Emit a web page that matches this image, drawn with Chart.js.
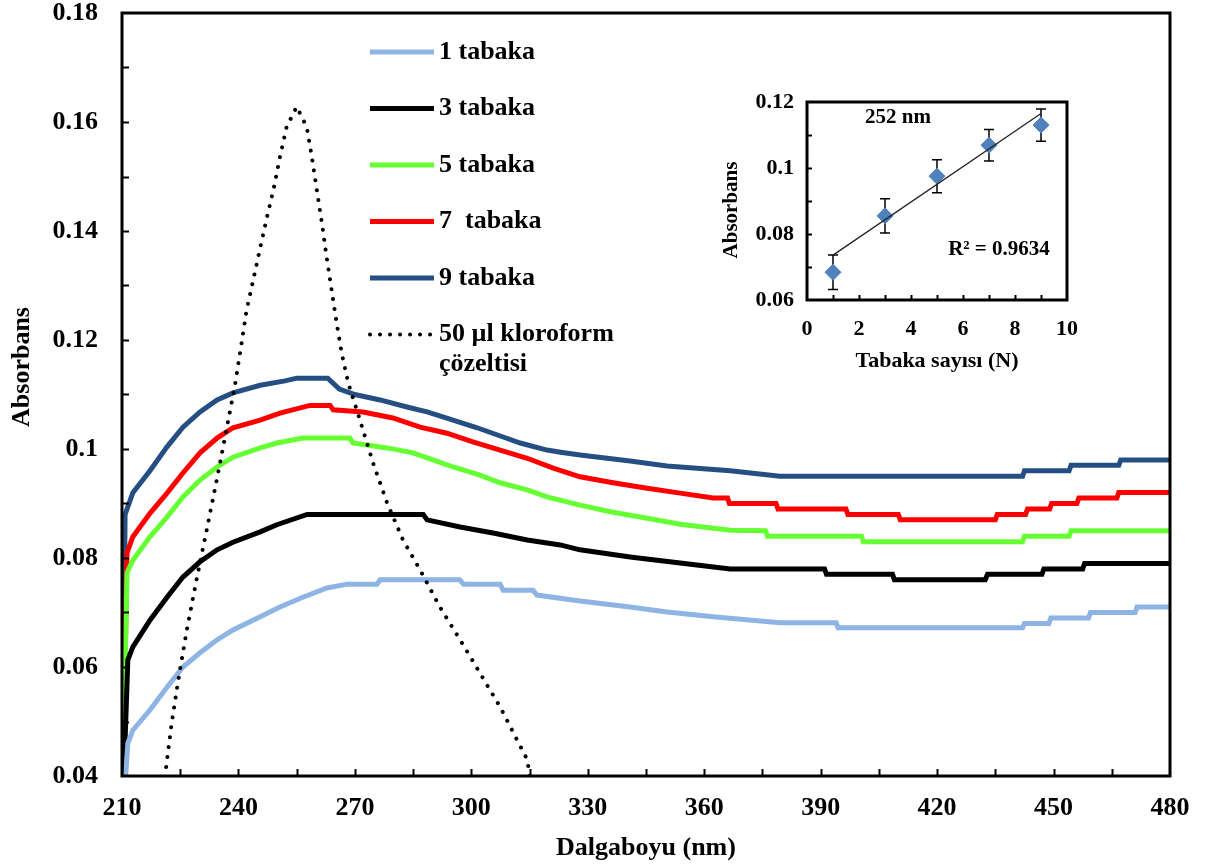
<!DOCTYPE html>
<html>
<head>
<meta charset="utf-8">
<title>Absorbans - Dalgaboyu</title>
<script src="https://cdn.jsdelivr.net/npm/chart.js@4.4.1/dist/chart.umd.min.js"></script>
<style>
  body { margin: 0; background: #fff; }
  #wrap { position: relative; width: 1210px; height: 867px; }
  #mainChart { position: absolute; left: 0; top: 0; }
  #insetChart { position: absolute; left: 700px; top: 80px; }
</style>
</head>
<body>
<div id="wrap">
  <canvas id="mainChart" width="1210" height="867"></canvas>
  <canvas id="insetChart" width="400" height="300"></canvas>
</div>
<script>
// ---- main spectra ----
const nm1 = [210, 211.5, 212.8, 217.2, 221.6, 225.7, 230.1, 234.5, 238.6, 245.6, 250.7, 256.6, 262.8, 268, 275.7, 276.5, 297, 298, 307.4, 308.2, 315.9, 316.9, 328, 340.9, 350.4, 362.3, 379.5, 394, 394.5, 442, 442.5, 448.8, 449.3, 459, 459.5, 471, 471.5, 480];
const abs1 = [0.03, 0.046, 0.0484, 0.0521, 0.0563, 0.06, 0.0626, 0.065, 0.0668, 0.0692, 0.071, 0.0728, 0.0745, 0.0752, 0.0752, 0.076, 0.076, 0.0752, 0.0752, 0.0741, 0.0741, 0.0732, 0.0721, 0.071, 0.0701, 0.0692, 0.0681, 0.0681, 0.0672, 0.0672, 0.068, 0.068, 0.069, 0.069, 0.07, 0.07, 0.071, 0.071];

const nm3 = [210, 211.5, 212.8, 217.2, 221.6, 225.7, 230.1, 234.5, 238.6, 245.6, 249.9, 257.7, 287.6, 288.6, 297.1, 305.6, 314.4, 322.9, 328, 340.9, 353.8, 366.7, 391, 391.5, 408.5, 409, 432.4, 433, 447, 447.5, 457.5, 458, 480];
const abs3 = [0.03, 0.0613, 0.0637, 0.0686, 0.0728, 0.0765, 0.0793, 0.0815, 0.0829, 0.0848, 0.0861, 0.088, 0.088, 0.087, 0.0857, 0.0846, 0.0833, 0.0824, 0.0815, 0.0802, 0.0791, 0.078, 0.078, 0.077, 0.077, 0.076, 0.076, 0.077, 0.077, 0.078, 0.078, 0.079, 0.079];

const nm5 = [210, 211.3, 212.8, 217.2, 221.6, 225.7, 230.1, 234.5, 238.6, 245.6, 249.9, 256.6, 268.7, 269.5, 278.3, 285, 290.1, 295.3, 302.2, 307.4, 314.4, 319.5, 328, 336.5, 345.3, 353.8, 366.7, 375.8, 376.3, 400.5, 401, 442, 442.5, 454, 454.5, 480];
const abs5 = [0.03, 0.0773, 0.0796, 0.0839, 0.0875, 0.0912, 0.0943, 0.0967, 0.0985, 0.1002, 0.1011, 0.102, 0.102, 0.1011, 0.1002, 0.0993, 0.098, 0.0967, 0.0952, 0.0938, 0.0925, 0.0912, 0.0897, 0.0884, 0.0873, 0.0862, 0.0851, 0.085, 0.084, 0.084, 0.083, 0.083, 0.084, 0.084, 0.085, 0.085];

const nm7 = [210, 211.3, 212.8, 217.2, 221.6, 225.7, 230.1, 234.5, 238.6, 245.6, 250.7, 258.4, 263.6, 264.4, 272.1, 279.8, 286.8, 293.7, 300.4, 307.4, 314.4, 321.1, 328, 336.5, 345.3, 353.8, 362.3, 366, 366.5, 378.5, 379, 396.5, 397, 410, 410.5, 435, 435.5, 442.8, 443.3, 449, 449.5, 456, 456.5, 466.3, 466.8, 480];
const abs7 = [0.03, 0.081, 0.0839, 0.0882, 0.0919, 0.0956, 0.0993, 0.102, 0.1039, 0.1053, 0.1066, 0.108, 0.108, 0.1072, 0.1068, 0.1057, 0.104, 0.1029, 0.1013, 0.0998, 0.0983, 0.0965, 0.0949, 0.0938, 0.0928, 0.0919, 0.091, 0.091, 0.09, 0.09, 0.089, 0.089, 0.088, 0.088, 0.087, 0.087, 0.088, 0.088, 0.089, 0.089, 0.09, 0.09, 0.091, 0.091, 0.092, 0.092];

const nm9 = [210, 210.8, 212.8, 217.2, 221.6, 225.7, 230.1, 234.5, 238.6, 245.6, 252, 255, 263, 266, 270, 276.5, 283.4, 288.6, 295.3, 301.5, 308.2, 312.6, 319.5, 323, 328, 340.9, 350.4, 366.7, 379.5, 442, 442.5, 454, 454.5, 466.8, 467.3, 480];
const abs9 = [0.03, 0.088, 0.092, 0.096, 0.1004, 0.104, 0.1068, 0.109, 0.1103, 0.1117, 0.1125, 0.113, 0.113, 0.111, 0.11, 0.109, 0.1077, 0.1068, 0.1053, 0.1039, 0.1022, 0.1011, 0.0998, 0.0994, 0.0989, 0.0978, 0.0969, 0.096, 0.095, 0.095, 0.096, 0.096, 0.097, 0.097, 0.098, 0.098];

// 50 µl kloroform çözeltisi (dotted)
const nmK = [220.8, 221.5, 222.8, 224.5, 226.7, 229.2, 231.8, 234.4, 236.9, 239.1, 240.8, 242.1, 243.8, 245.6, 247.3, 249.0, 250.7, 252.4, 255.0, 257.6, 258.9, 260.2, 261.5, 262.7, 264.0, 265.3, 266.6, 268.3, 271.3, 274.7, 278.3, 282.4, 286.8, 291.9, 297.1, 302.2, 307.4, 311.8, 314.4, 315.5];
const absK = [0.038, 0.0424, 0.0497, 0.0576, 0.0668, 0.076, 0.0851, 0.0943, 0.1035, 0.1117, 0.1194, 0.1255, 0.131, 0.1369, 0.1424, 0.1475, 0.1536, 0.1591, 0.1628, 0.1591, 0.1536, 0.1475, 0.1415, 0.1353, 0.1292, 0.1231, 0.1176, 0.1121, 0.1053, 0.0974, 0.0901, 0.0833, 0.0778, 0.071, 0.065, 0.0589, 0.0527, 0.0466, 0.043, 0.038];

// ---- inset: absorbance at 252 nm vs number of layers ----
const layerN = [1, 3, 5, 7, 9];
const peakAbs = [0.0684, 0.0855, 0.0975, 0.1069, 0.113];
const peakErr = [0.0052, 0.0052, 0.005, 0.0048, 0.0049];
const trendN = [1, 9];
const trendAbs = [0.0736, 0.1165];

const FONT = "'Liberation Serif', 'Times New Roman', serif";
const toPoints = (xs, ys) => xs.map((v, i) => ({ x: v, y: ys[i] }));

// box round the plot + short inward ticks
const frameTicks = {
  id: "frameTicks",
  beforeDraw(chart) {
    const { ctx, chartArea: a } = chart;
    ctx.save();
    ctx.fillStyle = "#fff";
    ctx.fillRect(a.left, a.top, a.right - a.left, a.bottom - a.top);
    ctx.restore();
  },
  afterDatasetsDraw(chart, args, opts) {
    const { ctx, chartArea: a } = chart;
    const x = chart.scales.x, y = chart.scales.y;
    ctx.save();
    ctx.strokeStyle = "#000";
    ctx.lineWidth = 2;
    ctx.beginPath();
    for (let v = x.min + opts.xStep; v < x.max - 1e-9; v += opts.xStep) {
      const px = Math.round(x.getPixelForValue(v)) + 0.5;
      ctx.moveTo(px, a.bottom);
      ctx.lineTo(px, a.bottom - opts.len);
    }
    for (let k = 1; y.min + k * opts.yStep < y.max - 1e-9; k++) {
      const py = Math.round(y.getPixelForValue(y.min + k * opts.yStep)) + 0.5;
      ctx.moveTo(a.left, py);
      ctx.lineTo(a.left + opts.len, py);
    }
    ctx.stroke();
    ctx.lineWidth = opts.width;
    ctx.strokeRect(a.left, a.top, a.right - a.left, a.bottom - a.top);
    ctx.restore();
  }
};

// free text (axis titles, notes)
const captions = {
  id: "captions",
  afterDraw(chart, args, opts) {
    const ctx = chart.ctx;
    opts.items.forEach((it) => {
      ctx.save();
      ctx.translate(it.x, it.y);
      if (it.rotate) ctx.rotate(it.rotate);
      ctx.font = "bold " + it.size + "px " + FONT;
      ctx.fillStyle = "#000";
      ctx.textAlign = "center";
      ctx.textBaseline = "middle";
      ctx.fillText(it.text, 0, 0);
      ctx.restore();
    });
  }
};

// legend drawn inside the plot, like the original
const innerLegend = {
  id: "innerLegend",
  afterDraw(chart, args, opts) {
    const ctx = chart.ctx;
    ctx.save();
    ctx.font = "bold " + opts.size + "px " + FONT;
    ctx.textBaseline = "middle";
    ctx.textAlign = "left";
    chart.data.datasets.forEach((ds, i) => {
      const y = opts.top + i * opts.step;
      ctx.beginPath();
      ctx.strokeStyle = ds.borderColor;
      ctx.lineWidth = ds.borderWidth;
      ctx.lineCap = ds.borderCapStyle || "butt";
      ctx.setLineDash(ds.borderDash || []);
      ctx.moveTo(opts.left, y);
      ctx.lineTo(opts.left + opts.lineLen, y);
      ctx.stroke();
      ctx.setLineDash([]);
      ctx.fillStyle = "#000";
      ds.label.split("\n").forEach((t, j) => {
        ctx.fillText(t, opts.left + opts.lineLen + 5, y + j * 30);
      });
    });
    ctx.restore();
  }
};

// keep the plot box where the layout padding puts it
const noTickPadding = (s) => {
  s.paddingTop = 0;
  s.paddingBottom = 0;
};

const solid = (label, xs, ys, color) => ({
  label: label,
  data: toPoints(xs, ys),
  borderColor: color,
  backgroundColor: color,
  borderWidth: 5,
  pointRadius: 0,
  tension: 0,
  clip: 0,
});

new Chart(document.getElementById("mainChart"), {
  type: "line",
  data: {
    datasets: [
      solid("1 tabaka", nm1, abs1, "#8DB4E2"),
      solid("3 tabaka", nm3, abs3, "#000000"),
      solid("5 tabaka", nm5, abs5, "#66FF33"),
      solid("7  tabaka", nm7, abs7, "#FF0000"),
      solid("9 tabaka", nm9, abs9, "#254F82"),
      {
        label: "50 µl kloroform\nçözeltisi",
        data: toPoints(nmK, absK),
        borderColor: "#000",
        borderWidth: 4,
        borderDash: [0.01, 10],
        borderCapStyle: "round",
        pointRadius: 0,
        tension: 0,
        clip: 0,
        order: -1,
      },
    ],
  },
  options: {
    responsive: false,
    animation: false,
    layout: { padding: { top: 13, right: 40, left: 0, bottom: 0 } },
    plugins: {
      legend: { display: false },
      tooltip: { enabled: false },
      frameTicks: { xStep: 15, yStep: 0.01, len: 7, width: 3 },
      innerLegend: { left: 370, top: 52, step: 56.5, lineLen: 64, size: 26 },
      captions: {
        items: [
          { text: "Dalgaboyu (nm)", x: 646, y: 848, size: 26 },
          { text: "Absorbans", x: 22, y: 367, size: 26, rotate: -Math.PI / 2 },
        ],
      },
    },
    scales: {
      x: {
        type: "linear",
        min: 210,
        max: 480,
        grid: { display: false, drawTicks: false },
        border: { display: false },
        ticks: { stepSize: 30, padding: 17, maxRotation: 0, color: "#000", font: { family: FONT, size: 26, weight: "bold" } },
        afterFit: (s) => { s.height = 91; },
      },
      y: {
        min: 0.04,
        max: 0.18,
        grid: { display: false, drawTicks: false },
        border: { display: false },
        ticks: {
          stepSize: 0.02,
          padding: 24,
          color: "#000",
          font: { family: FONT, size: 26, weight: "bold", lineHeight: 1 },
          callback: (v) => String(+v.toFixed(2)),
        },
        afterFit: (s) => { s.width = 122; noTickPadding(s); },
      },
    },
  },
  plugins: [frameTicks, innerLegend, captions],
});

// error bars for the inset
const errorBars = {
  id: "errorBars",
  beforeDatasetsDraw(chart) {
    const { ctx } = chart;
    const x = chart.scales.x, y = chart.scales.y;
    ctx.save();
    ctx.strokeStyle = "#000";
    ctx.lineWidth = 1.5;
    ctx.beginPath();
    layerN.forEach((n, i) => {
      const px = x.getPixelForValue(n);
      const top = y.getPixelForValue(peakAbs[i] + peakErr[i]);
      const bot = y.getPixelForValue(peakAbs[i] - peakErr[i]);
      ctx.moveTo(px, top); ctx.lineTo(px, bot);
      ctx.moveTo(px - 5, top); ctx.lineTo(px + 5, top);
      ctx.moveTo(px - 5, bot); ctx.lineTo(px + 5, bot);
    });
    ctx.stroke();
    ctx.restore();
  }
};

new Chart(document.getElementById("insetChart"), {
  type: "scatter",
  data: {
    datasets: [
      {
        label: "Doğrusal",
        data: toPoints(trendN, trendAbs),
        showLine: true,
        borderColor: "#222",
        borderWidth: 1.3,
        pointRadius: 0,
        order: 0,
      },
      {
        label: "252 nm",
        data: toPoints(layerN, peakAbs),
        pointStyle: "rectRot",
        pointRadius: 8,
        backgroundColor: "#4F81BD",
        borderColor: "#4F81BD",
        borderWidth: 1,
        order: 1,
      },
    ],
  },
  options: {
    responsive: false,
    animation: false,
    layout: { padding: { top: 22, right: 33, left: 0, bottom: 0 } },
    plugins: {
      legend: { display: false },
      tooltip: { enabled: false },
      frameTicks: { xStep: 1, yStep: 0.01, len: 5, width: 3 },
      captions: {
        items: [
          { text: "252 nm", x: 198, y: 38, size: 21 },
          { text: "R² = 0.9634", x: 299, y: 170, size: 21 },
          { text: "Tabaka sayısı (N)", x: 237, y: 281, size: 22 },
          { text: "Absorbans", x: 32, y: 130, size: 21, rotate: -Math.PI / 2 },
        ],
      },
    },
    scales: {
      x: {
        type: "linear",
        min: 0,
        max: 10,
        grid: { display: false, drawTicks: false },
        border: { display: false },
        ticks: { stepSize: 2, padding: 16, maxRotation: 0, color: "#000", font: { family: FONT, size: 22, weight: "bold" } },
        afterFit: (s) => { s.height = 80; },
      },
      y: {
        min: 0.06,
        max: 0.12,
        grid: { display: false, drawTicks: false },
        border: { display: false },
        ticks: {
          stepSize: 0.02,
          padding: 13,
          color: "#000",
          font: { family: FONT, size: 22, weight: "bold", lineHeight: 1 },
          callback: (v) => String(+v.toFixed(2)),
        },
        afterFit: (s) => { s.width = 107; noTickPadding(s); },
      },
    },
  },
  plugins: [frameTicks, errorBars, captions],
});
</script>
</body>
</html>
